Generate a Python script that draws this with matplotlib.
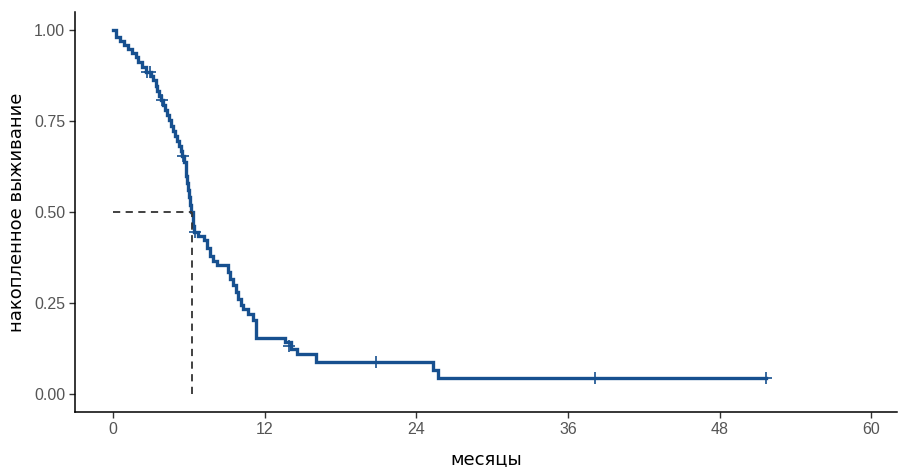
import matplotlib.pyplot as plt

# ступенчатая кривая выживания (время в месяцах, доля выживших после события)
event_t = [0, 0.25, 0.6, 0.9, 1.2, 1.5, 1.8, 2.0, 2.3, 2.6, 3.0, 3.2, 3.4, 3.5, 3.65,
           3.8, 4.0, 4.15, 4.3, 4.45, 4.6, 4.75, 4.9, 5.05, 5.2, 5.35, 5.5, 5.65, 5.75,
           5.8, 5.9, 5.95, 6.0, 6.1, 6.2, 6.3, 6.35, 6.4, 6.7, 7.2, 7.45, 7.7, 7.9, 8.2,
           9.1, 9.3, 9.5, 9.7, 9.9, 10.1, 10.3, 10.7, 11.1, 11.3, 13.6, 14.1, 14.6, 16.1,
           25.3, 25.7, 51.7]
event_s = [1.0, 0.982, 0.971, 0.96, 0.949, 0.938, 0.927, 0.914, 0.9, 0.884, 0.873, 0.862,
           0.848, 0.834, 0.82, 0.808, 0.795, 0.78, 0.766, 0.752, 0.738, 0.723, 0.709, 0.695,
           0.681, 0.667, 0.653, 0.637, 0.62, 0.6, 0.58, 0.56, 0.54, 0.52, 0.5, 0.48, 0.462,
           0.446, 0.435, 0.424, 0.402, 0.38, 0.366, 0.355, 0.335, 0.315, 0.3, 0.28, 0.262,
           0.245, 0.232, 0.218, 0.204, 0.154, 0.143, 0.124, 0.11, 0.088, 0.066, 0.044, 0.044]

# цензурированные наблюдения
cens_t = [2.7, 2.95, 3.85, 5.55, 6.5, 13.9, 20.8, 38.1, 51.7]
cens_s = [0.884, 0.884, 0.808, 0.653, 0.446, 0.132, 0.088, 0.044, 0.044]

median_t = 6.25
xticks = [0, 12, 24, 36, 48, 60]
yticks = [0.0, 0.25, 0.5, 0.75, 1.0]

col = '#17508f'
fig = plt.figure(figsize=(8.99, 4.67), dpi=100)
ax = fig.add_axes([0.0834, 0.118, 0.914, 0.856])

ax.plot(event_t, event_s, drawstyle='steps-post', color=col, lw=2.4, solid_joinstyle='miter')
ax.plot(cens_t, cens_s, ls='none', marker='+', ms=9, mew=1.2, color=col)

ax.plot([0, median_t], [0.5, 0.5], ls=(0, (4, 3)), color='#333333', lw=1.3)
ax.plot([median_t, median_t], [0, 0.5], ls=(0, (4, 3)), color='#333333', lw=1.3)

ax.set_xlim(-3, 62)
ax.set_ylim(-0.05, 1.05)
ax.set_xticks(xticks)
ax.set_yticks(yticks)
ax.set_yticklabels(['%.2f' % v for v in yticks])
for s in ['top', 'right']:
    ax.spines[s].set_visible(False)
for s in ['left', 'bottom']:
    ax.spines[s].set_linewidth(1.1)
ax.tick_params(length=4, width=1, color='#333333', labelcolor='#555555',
               labelsize=11.5, pad=3)
for lab in ax.get_xticklabels() + ax.get_yticklabels():
    lab.set_family('Liberation Sans')

ax.set_xlabel('месяцы', fontsize=13, family='DejaVu Sans', labelpad=10)
ax.set_ylabel('накопленное выживание', fontsize=13, family='DejaVu Sans', labelpad=6)

fig.savefig('out.png', dpi=100)
